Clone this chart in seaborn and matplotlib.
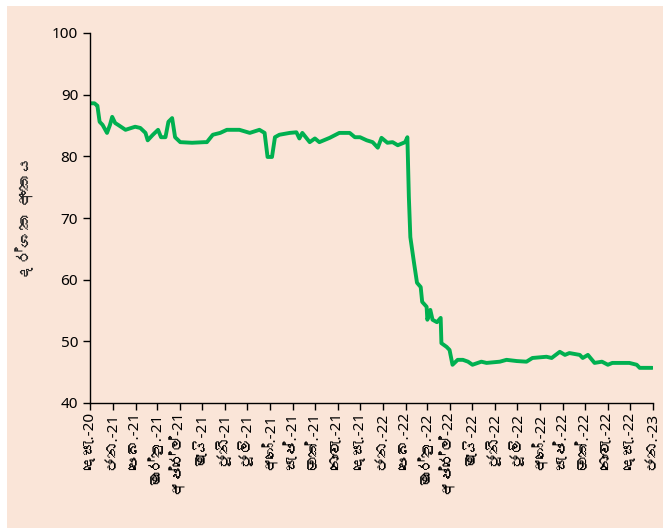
import matplotlib
matplotlib.use("Agg")
import matplotlib.pyplot as plt
from matplotlib import font_manager
from matplotlib.ft2font import FT2Font
from matplotlib.patches import Rectangle
import seaborn as sns
import pandas as pd

# index values
dates = [
  "2020-12-02", "2020-12-07", "2020-12-10", "2020-12-11", "2020-12-14", "2020-12-18",
  "2020-12-24", "2020-12-28", "2020-12-31", "2021-01-04", "2021-01-08", "2021-01-18",
  "2021-01-31", "2021-02-07", "2021-02-14", "2021-02-17", "2021-02-24", "2021-03-03",
  "2021-03-07", "2021-03-13", "2021-03-17", "2021-03-22", "2021-03-26", "2021-04-02",
  "2021-04-18", "2021-05-05", "2021-05-08", "2021-05-16", "2021-05-26", "2021-06-04",
  "2021-06-21", "2021-07-05", "2021-07-18", "2021-07-25", "2021-07-29", "2021-08-04",
  "2021-08-08", "2021-08-14", "2021-08-28", "2021-09-06", "2021-09-10", "2021-09-14",
  "2021-09-24", "2021-10-01", "2021-10-07", "2021-10-21", "2021-11-03", "2021-11-17",
  "2021-11-24", "2021-12-01", "2021-12-10", "2021-12-18", "2021-12-25", "2021-12-30",
  "2022-01-07", "2022-01-14", "2022-01-21", "2022-01-31", "2022-02-03", "2022-02-05",
  "2022-02-07", "2022-02-12", "2022-02-16", "2022-02-21", "2022-02-23", "2022-03-01",
  "2022-03-02", "2022-03-06", "2022-03-09", "2022-03-15", "2022-03-20", "2022-03-21",
  "2022-03-28", "2022-04-01", "2022-04-05", "2022-04-12", "2022-04-19", "2022-04-26",
  "2022-05-02", "2022-05-14", "2022-05-21", "2022-06-08", "2022-06-17", "2022-07-01",
  "2022-07-14", "2022-07-22", "2022-08-10", "2022-08-17", "2022-08-28", "2022-09-04",
  "2022-09-10", "2022-09-24", "2022-09-28", "2022-10-05", "2022-10-14", "2022-10-24",
  "2022-11-01", "2022-11-07", "2022-11-30", "2022-12-10", "2022-12-14", "2022-12-31",
]
values = [
  88.6, 88.6, 88.3, 88.2, 85.6, 85.1,
  83.8, 85.1, 86.4, 85.4, 85.1, 84.3,
  84.8, 84.6, 83.8, 82.6, 83.5, 84.3,
  83.1, 83.1, 85.6, 86.2, 83.1, 82.3,
  82.2, 82.3, 82.3, 83.5, 83.8, 84.3,
  84.3, 83.8, 84.3, 83.8, 79.9, 79.9,
  83.1, 83.5, 83.8, 83.9, 82.9, 83.8,
  82.3, 82.9, 82.3, 83.0, 83.8, 83.8,
  83.1, 83.1, 82.6, 82.3, 81.4, 83.0,
  82.2, 82.3, 81.8, 82.3, 83.1, 73.4,
  66.9, 62.7, 59.5, 58.8, 56.4, 55.6,
  53.5, 55.1, 53.5, 53.1, 53.8, 49.7,
  49.1, 48.6, 46.2, 47.0, 47.0, 46.7,
  46.2, 46.7, 46.5, 46.7, 47.0, 46.8,
  46.7, 47.3, 47.5, 47.3, 48.3, 47.8,
  48.1, 47.8, 47.3, 47.8, 46.5, 46.7,
  46.2, 46.5, 46.5, 46.2, 45.7, 45.7,
]

tick_dates = pd.date_range("2020-12-01", "2023-01-01", freq="MS")
tick_labels = [
  "දෙසැ.-20", "ජන.-21", "පෙබ.-21", "මාර්තු.-21", "අප්‍රේල්-21", "මැයි-21", "ජූනි-21",
  "ජූලි-21", "අගෝ.-21", "සැප්.-21", "ඔක්.-21", "නොවැ.-21", "දෙසැ.-21", "ජන.-22",
  "පෙබ.-22", "මාර්තු.-22", "අප්‍රේල්-22", "මැයි-22", "ජූනි-22", "ජූලි-22", "අගෝ.-22",
  "සැප්.-22", "ඔක්.-22", "නොවැ.-22", "දෙසැ.-22", "ජන.-23",
]
y_label = "දර්ශක අංකය"

bg = "#fae5d8"
green = "#00b050"


def sinhala_font():
  # look for any installed font that covers Sinhala
  seen = set()
  for f in font_manager.fontManager.ttflist:
    if f.fname in seen:
      continue
    seen.add(f.fname)
    try:
      if 0x0DAF in FT2Font(f.fname).get_charmap():
        return f.name
    except Exception:
      pass
  return None


sns.set_theme(style="ticks")
families = ["Noto Sans", "DejaVu Sans"]
si = sinhala_font()
if si:
  families.append(si)
plt.rcParams["font.family"] = families

df = pd.DataFrame({"date": pd.to_datetime(dates), "value": values})

fig = plt.figure(figsize=(6.71, 5.28), dpi=100, facecolor="white")
# peach panel, the image is cropped with a thin white edge top-left
fig.patches.append(Rectangle((7 / 671, 0), 656 / 671, 1 - 6 / 528, transform=fig.transFigure,
                             facecolor=bg, edgecolor="none", zorder=-10))
ax = fig.add_axes([90 / 671, 1 - 403 / 528, 563 / 671, 370 / 528])
ax.set_facecolor(bg)

sns.lineplot(data=df, x="date", y="value", color=green, linewidth=2.8, ax=ax)

ax.set_ylim(40, 100)
ax.set_yticks(range(40, 101, 10))
ax.set_xlim(tick_dates[0], tick_dates[-1])
ax.set_xticks(tick_dates)
ax.set_xticklabels(tick_labels, rotation=90)

ax.tick_params(axis="both", direction="out", length=5, width=1, colors="black", labelsize=11)
ax.tick_params(axis="x", pad=2)
ax.set_xlabel("")
ax.set_ylabel(y_label, fontsize=12.5, fontweight="bold", labelpad=12)

for side in ["top", "right"]:
  ax.spines[side].set_visible(False)
for side in ["left", "bottom"]:
  ax.spines[side].set_color("black")
  ax.spines[side].set_linewidth(1)

fig.savefig("out.png", dpi=100, facecolor="white")
